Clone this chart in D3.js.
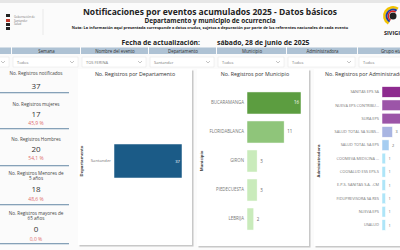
<!DOCTYPE html>
<html>
<head>
<meta charset="utf-8">
<script src="https://cdn.jsdelivr.net/npm/d3@7"></script>
<style>
  body { margin: 0; background: #fff; }
  svg { font-family: 'Open Sans', sans-serif; display: block; }
</style>
</head>
<body>
<svg id="chart" width="400" height="250"></svg>
<script>
// ---- data ----
var filterNames = ['', 'Semana', 'Nombre del evento', 'Departamento', 'Municipio', 'Administradora', 'Grupo etario'];
var filterValues = ['', 'Todos', 'TOS FERINA', 'Santander', 'Todos', 'Todos', 'Todos'];

var kpiLabels = [['No. Registros notificados'], ['No. Registros mujeres'], ['No. Registros Hombres'],
  ['No. Registros Menores de', '5 años'], ['No. Registros mayores de', '65 años']];
var kpiValues = [37, 17, 20, 18, 0];
var kpiPct = [null, '45,9 %', '54,1 %', '48,6 %', '0,0 %'];

var departamentos = ['Santander'];
var depValues = [37];

var municipios = ['BUCARAMANGA', 'FLORIDABLANCA', 'GIRON', 'PIEDECUESTA', 'LEBRIJA'];
var munValues = [16, 11, 3, 3, 2];
var munColors = ['#5c9d40', '#8fc57a', '#c9ebbb', '#c9ebbb', '#c9ebbb'];

var administradoras = ['SANITAS EPS SA', 'NUEVA EPS CONTRIBU...', 'SURA EPS', 'SALUD TOTAL SA SUBS...',
  'SALUD TOTAL SA EPS', 'COOMEVA MEDICINA ...', 'COOSALUD ESS EPS-S', 'E.P.S. SANITAS S.A. -CM',
  'FIDUPREVISORA SA RES', 'NUEVA EPS', 'USALUD'];
var admValues = [10, 8, 8, 3, 2, 1, 1, 1, 1, 1, 1];
var admColors = ['#8e2b8f', '#9c55a8', '#9c55a8', '#a9b5e2', '#a6cdf1', '#aee5f8', '#aee5f8',
  '#aee5f8', '#aee5f8', '#aee5f8', '#aee5f8'];

var svg = d3.select('#chart');

// ---- background / header ----
svg.append('rect').attr('width', 400).attr('height', 250).attr('fill', '#fbfbfb');
svg.append('rect').attr('width', 400).attr('height', 3).attr('fill', '#e6e6e6');

// left logo
var logo = svg.append('g');
[['#222', 14], ['#c0392b', 19], ['#222', 23], ['#222', 27]].forEach(function (b) {
  logo.append('rect').attr('x', 6).attr('y', b[1]).attr('width', 4).attr('height', 3).attr('fill', b[0]);
});
['Gobernación de', 'Santander', 'Salud'].forEach(function (t, i) {
  logo.append('text').attr('x', 14).attr('y', 18 + i * 3.5).attr('font-size', 2.8).attr('fill', '#777').text(t);
});
svg.append('line').attr('x1', 43).attr('x2', 43).attr('y1', 9).attr('y2', 35)
  .attr('stroke', '#ddd').attr('stroke-width', 0.6);

// right logo
var sv = svg.append('g').attr('transform', 'translate(393,16)');
[['#f2c200', 10, 2.5], ['#1f3f9a', 7.5, 2], ['#d22', 5.5, 1.5]].forEach(function (r) {
  sv.append('path')
    .attr('d', d3.arc()({ innerRadius: r[1] - r[2], outerRadius: r[1], startAngle: -2.6, endAngle: 0.6 }))
    .attr('fill', r[0]);
});
sv.append('circle').attr('r', 3.5).attr('fill', '#222');
svg.append('text').attr('x', 384).attr('y', 35).attr('font-size', 5.5).attr('font-weight', 700)
  .attr('fill', '#222').text('SIVIGILA');

svg.append('text').attr('x', 210).attr('y', 14.5).attr('text-anchor', 'middle')
  .attr('font-size', 8.5).attr('font-weight', 700).attr('fill', '#222')
  .text('Notificaciones por eventos acumulados 2025 - Datos básicos');
svg.append('text').attr('x', 210).attr('y', 23).attr('text-anchor', 'middle')
  .attr('font-size', 6.4).attr('font-weight', 700).attr('fill', '#222')
  .text('Departamento y municipio de ocurrencia');
svg.append('text').attr('x', 210).attr('y', 29).attr('text-anchor', 'middle')
  .attr('font-size', 3.9).attr('font-weight', 700).attr('fill', '#222')
  .text('Nota: La información aquí presentada corresponde a datos crudos, sujetos a depuración por parte de los referentes nacionales de cada evento');
svg.append('text').attr('x', 200).attr('y', 45).attr('text-anchor', 'end')
  .attr('font-size', 6.8).attr('font-weight', 700).attr('fill', '#222').text('Fecha de actualización:');
svg.append('text').attr('x', 217).attr('y', 45)
  .attr('font-size', 6.8).attr('font-weight', 700).attr('fill', '#222').text('sábado, 28 de junio de 2025');

// ---- filters ----
var colEdges = [-58, 12, 81, 149, 217, 287, 358, 430];
filterNames.forEach(function (n, i) {
  var x0 = colEdges[i], x1 = colEdges[i + 1];
  svg.append('rect').attr('x', x0).attr('y', 47.5).attr('width', x1 - x0 - 1).attr('height', 6.5).attr('fill', '#aec2d4');
  svg.append('text').attr('x', (x0 + x1) / 2).attr('y', 52.5).attr('text-anchor', 'middle')
    .attr('font-size', 4.4).attr('fill', '#333').text(n);
  svg.append('rect').attr('x', x0 + 1).attr('y', 57).attr('width', x1 - x0 - 4).attr('height', 10)
    .attr('fill', '#fff').attr('stroke', '#e4e4e4').attr('stroke-width', 0.5);
  svg.append('text').attr('x', x0 + 5).attr('y', 63.5).attr('font-size', 4).attr('fill', '#777').text(filterValues[i]);
  svg.append('path').attr('d', 'M' + (x1 - 11) + ',61l2,2l2,-2').attr('fill', 'none')
    .attr('stroke', '#888').attr('stroke-width', 0.5);
});

// ---- KPI column ----
var kpiY = [[73], [104], [139], [173, 178.5], [213, 218.5]];
var valY = [86, 114, 149, 189, 229];
var pctY = [null, 123, 158, 199, 239];
var lineY = [92, 128, 165, 204, 243];
kpiLabels.forEach(function (l, i) {
  l.forEach(function (t, j) {
    svg.append('text').attr('x', 36).attr('y', kpiY[i][j] + 1.5).attr('text-anchor', 'middle')
      .attr('font-size', 4.6).attr('fill', '#444').text(t);
  });
  svg.append('text').attr('x', 36).attr('y', valY[i] + 2.5).attr('text-anchor', 'middle')
    .attr('font-size', 8).attr('fill', '#333').text(kpiValues[i]);
  if (kpiPct[i]) {
    svg.append('text').attr('x', 36).attr('y', pctY[i] + 1.5).attr('text-anchor', 'middle')
      .attr('font-size', 5).attr('fill', '#e06b6b').text(kpiPct[i]);
  }
  svg.append('rect').attr('x', 0).attr('y', lineY[i]).attr('width', 69).attr('height', 1.3).attr('fill', '#86a1b8');
});

// ---- cards ----
function card(x, y, w, h) {
  svg.append('rect').attr('x', x + 1.5).attr('y', y + 1.5).attr('width', w).attr('height', h).attr('fill', '#c8c8c8');
  svg.append('rect').attr('x', x).attr('y', y).attr('width', w).attr('height', h).attr('fill', '#fff');
}
card(78, 69, 114, 176);
card(197, 69, 112, 177);
card(314, 69, 90, 177);

function hbar(opt) {
  var y = d3.scaleBand().domain(opt.cats).range(opt.yr).paddingInner(opt.pi).paddingOuter(opt.po);
  var x = d3.scaleLinear().domain([0, opt.max]).range(opt.xr);
  var g = svg.append('g');
  g.selectAll('.bar').data(opt.vals).enter().append('rect')
    .attr('x', x(0)).attr('y', function (d, i) { return y(opt.cats[i]); })
    .attr('width', function (d) { return x(d) - x(0); }).attr('height', y.bandwidth())
    .attr('fill', function (d, i) { return opt.colors[i]; })
    .attr('stroke', '#fff').attr('stroke-width', 0.5);
  var ax = g.append('g').attr('transform', 'translate(' + (x(0) - 1) + ',0)')
    .call(d3.axisLeft(y).tickSize(0).tickPadding(2));
  ax.select('.domain').remove();
  ax.selectAll('text').attr('font-size', opt.fs).attr('fill', '#777').attr('font-family', "'Open Sans', sans-serif");
  g.selectAll('.val').data(opt.vals).enter().append('text')
    .attr('x', function (d) { return d >= opt.inside ? x(d) - 2 : x(d) + 3; })
    .attr('y', function (d, i) { return y(opt.cats[i]) + y.bandwidth() / 2 + 1.5; })
    .attr('text-anchor', function (d) { return d >= opt.inside ? 'end' : 'start'; })
    .attr('font-size', opt.fs).attr('fill', function (d) { return d >= opt.inside ? '#fff' : '#666'; })
    .text(function (d) { return d; });
  svg.append('text').attr('x', opt.tx).attr('y', 76).attr('text-anchor', opt.ta)
    .attr('font-size', 5.3).attr('fill', '#333').text(opt.title);
  svg.append('text').attr('transform', 'translate(' + opt.ax + ',161) rotate(-90)')
    .attr('text-anchor', 'middle').attr('font-size', 4.2).attr('font-weight', 700).attr('fill', '#444')
    .text(opt.axisTitle);
}

hbar({ cats: departamentos, vals: depValues, colors: ['#1b5b87'], yr: [80, 242], pi: 0.653, po: 0.653,
  max: 37, xr: [114, 182], fs: 4.2, inside: 10, title: 'No. Registros por Departamento', tx: 135, ta: 'middle',
  ax: 83, axisTitle: 'Departamento' });
hbar({ cats: municipios, vals: munValues, colors: munColors, yr: [85, 237], pi: 0.24, po: 0.24,
  max: 16, xr: [247, 301], fs: 4.4, inside: 14, title: 'No. Registros por Municipio', tx: 255, ta: 'middle',
  ax: 203, axisTitle: 'Municipio' });
hbar({ cats: administradoras, vals: admValues, colors: admColors, yr: [84, 233], pi: 0.2, po: 0.2,
  max: 10, xr: [382, 417], fs: 3.9, inside: 20, title: 'No. Registros por Administradora', tx: 325, ta: 'start',
  ax: 320, axisTitle: 'Administradora' });
</script>
</body>
</html>
